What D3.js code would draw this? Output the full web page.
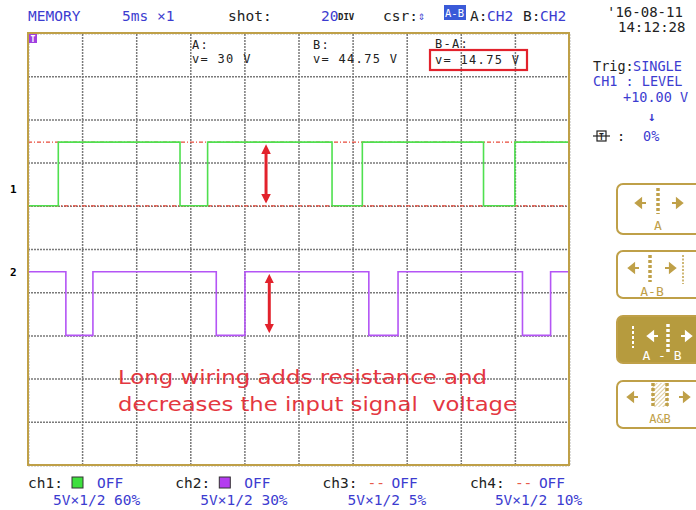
<!DOCTYPE html>
<html><head><meta charset="utf-8">
<script src="https://cdn.jsdelivr.net/npm/d3@7"></script>
<style>
html,body{margin:0;padding:0;background:#fff;}
svg{display:block;}
text{font-family:"DejaVu Sans Mono",monospace;}
</style></head>
<body><div id="chart"></div>
<script>
// ---- data ----
const timeDomainMs = [0, 50];          // 5 ms/div x 10 div
const divDomain = [0, 10];             // vertical divisions
const voltsPerDiv = 10;
const ch1OffsetDiv = 6;                // 60%
const ch2OffsetDiv = 3;                // 30%
const ch1Edges = [0, 2.8, 14.05, 16.6, 28.1, 30.9, 42.1, 45.0];
const ch1Levels = [0, 14.75, 0, 14.75, 0, 14.75, 0, 14.75];
const ch2Edges = [0, 3.5, 6.0, 17.4, 20.05, 31.5, 34.2, 45.7, 48.3];
const ch2Levels = [14.75, 0, 14.75, 0, 14.75, 0, 14.75, 0, 14.75];
const cursorVolts = [0, 14.75];
const arrowTimeCh1 = 22.0;
const arrowTimeCh2 = 22.3;
const cursorA = "v= 30 V";
const cursorB = "v= 44.75 V";
const cursorBA = "v= 14.75 V";
const legendChannels = ["ch1:", "ch2:", "ch3:", "ch4:"];
const legendScales = ["5V×1/2 60%", "5V×1/2 30%", "5V×1/2 5%", "5V×1/2 10%"];
const annotation = ["Long wiring adds resistance and", "decreases the input signal  voltage"];

// ---- layout ----
const W = 696, H = 510;
const L = 28, R = 569, T = 33, B = 465;
const blue = "#3c3cd0", gold = "#bfa048", red = "#e2222c";
const svg = d3.select("#chart").append("svg").attr("width", W).attr("height", H);

const x = d3.scaleLinear().domain(timeDomainMs).range([L, R]);
const y = d3.scaleLinear().domain(divDomain).range([B, T]);
const vToDiv = (v, off) => off + v / voltsPerDiv;

// grid
const g = svg.append("g");
const xAxis = d3.axisBottom(x).ticks(10).tickSize(-(B - T)).tickFormat("");
const yAxis = d3.axisLeft(y).ticks(10).tickSize(-(R - L)).tickFormat("");
const gx = g.append("g").attr("transform", `translate(0,${B})`).call(xAxis);
const gy = g.append("g").attr("transform", `translate(${L},0)`).call(yAxis);
[gx, gy].forEach(a => {
  a.select(".domain").remove();
  a.selectAll("line").attr("stroke", "#7a7a7a").attr("stroke-width", 1.5).attr("stroke-dasharray", "2,1");
});

// annotation (under traces)
svg.append("g").selectAll("text").data(annotation).join("text")
  .attr("x", 118).attr("y", (d, i) => 384 + i * 27)
  .attr("textLength", (d, i) => i ? 399 : 369).attr("lengthAdjust", "spacingAndGlyphs")
  .attr("xml:space", "preserve").style("white-space", "pre")
  .style("font-family", "'DejaVu Sans',Verdana,sans-serif").style("font-size", "19px")
  .attr("fill", red).attr("opacity", 0.9).text(d => d);

gy.raise();

// cursor dashed lines (ch1 levels)
svg.append("g").selectAll("line").data(cursorVolts).join("line")
  .attr("x1", L).attr("x2", R)
  .attr("y1", d => y(vToDiv(d, ch1OffsetDiv))).attr("y2", d => y(vToDiv(d, ch1OffsetDiv)))
  .attr("stroke", "#e84a3a").attr("stroke-width", 1.3).attr("stroke-dasharray", "4,2,1,2");

// traces
function trace(edges, levels, off, color) {
  const pts = edges.map((t, i) => [t, levels[i]]);
  pts.push([timeDomainMs[1], levels[levels.length - 1]]);
  const line = d3.line().x(d => x(d[0])).y(d => y(vToDiv(d[1], off))).curve(d3.curveStepAfter);
  svg.append("path").attr("d", line(pts)).attr("fill", "none")
    .attr("stroke", color).attr("stroke-width", 1.6);
}
trace(ch1Edges, ch1Levels, ch1OffsetDiv, "#4fe04f");
trace(ch2Edges, ch2Levels, ch2OffsetDiv, "#b455f5");

// red double arrows
const defs = svg.append("defs");
defs.append("marker").attr("id", "ah").attr("viewBox", "0 0 10 10").attr("refX", 5).attr("refY", 5)
  .attr("markerWidth", 3.2).attr("markerHeight", 3.2).attr("orient", "auto-start-reverse")
  .append("path").attr("d", "M0,0 L10,5 L0,10 Z").attr("fill", red);
[[arrowTimeCh1, ch1OffsetDiv], [arrowTimeCh2, ch2OffsetDiv]].forEach(([t, off]) => {
  svg.append("line").attr("x1", x(t)).attr("x2", x(t))
    .attr("y1", y(vToDiv(cursorVolts[1], off)) + 7).attr("y2", y(vToDiv(cursorVolts[0], off)) - 7)
    .attr("stroke", red).attr("stroke-width", 3)
    .attr("marker-start", "url(#ah)").attr("marker-end", "url(#ah)");
});

// border
svg.append("rect").attr("x", L).attr("y", T).attr("width", R - L).attr("height", B - T)
  .attr("fill", "none").attr("stroke", gold).attr("stroke-width", 2);

// T marker
svg.append("rect").attr("x", L + 1).attr("y", T + 1).attr("width", 8).attr("height", 9).attr("fill", "#a040e0");
svg.append("text").attr("x", L + 5).attr("y", T + 9).attr("text-anchor", "middle")
  .style("font-size", "8px").style("font-weight", "bold").attr("fill", "#fff").text("T");

// channel numbers
svg.append("text").attr("x", 10).attr("y", 193).style("font-size", "11px").style("font-weight", "bold").text("1");
svg.append("text").attr("x", 10).attr("y", 276).style("font-size", "11px").style("font-weight", "bold").text("2");

// cursor readouts
const rd = svg.append("g").style("font-size", "12px").style("letter-spacing", "1.3px").attr("fill", "#222");
rd.append("text").attr("x", 192).attr("y", 49).text("A:");
rd.append("text").attr("x", 192).attr("y", 63).text(cursorA);
rd.append("text").attr("x", 313).attr("y", 49).text("B:");
rd.append("text").attr("x", 313).attr("y", 63).text(cursorB);
rd.append("text").attr("x", 435).attr("y", 48).text("B-A:");
rd.append("text").attr("x", 435).attr("y", 64).text(cursorBA);
svg.append("rect").attr("x", 430).attr("y", 50).attr("width", 97).attr("height", 20)
  .attr("fill", "none").attr("stroke", red).attr("stroke-width", 2.2);

// header
const hs = "14.5px";
function txt(xp, yp, s, col, size) {
  return svg.append("text").attr("x", xp).attr("y", yp).style("font-size", size || hs).attr("fill", col).text(s);
}
txt(28, 21, "MEMORY", blue);
txt(122, 21, "5ms ×1", blue);
txt(228, 21, "shot:", "#222");
txt(321, 21, "20", blue);
txt(338, 20, "DIV", "#222", "9px").style("font-weight", "bold");
txt(383, 21, "csr:", "#222");
txt(418, 20, "⇕", blue, "12px");
svg.append("rect").attr("x", 444).attr("y", 5).attr("width", 22).attr("height", 15).attr("fill", "#3a5ad8");
txt(445, 17, "A-B", "#fff", "10.5px");
txt(470, 21, "A:", "#222");
txt(487, 21, "CH2", blue);
txt(523, 21, "B:", "#222");
txt(540, 21, "CH2", blue);
txt(607, 17, "'16-08-11", "#222", "14px");
txt(618, 32, "14:12:28", "#222", "14px");

// right trigger panel
const ps = "13.5px";
txt(593, 71, "Trig:", "#222", ps);
txt(633, 71, "SINGLE", blue, ps);
txt(593, 86, "CH1 : LEVEL", blue, ps);
txt(623, 102, "+10.00 V", blue, ps);
txt(648, 121, "↓", blue, "13px").style("font-weight", "bold");
svg.append("rect").attr("x", 597).attr("y", 131).attr("width", 9).attr("height", 10).attr("fill", "none").attr("stroke", "#222").attr("stroke-width", 1.2);
svg.append("text").attr("x", 601.5).attr("y", 139.5).attr("text-anchor", "middle").style("font-size", "8px").style("font-weight", "bold").attr("fill", "#222").text("T");
svg.append("line").attr("x1", 593).attr("x2", 610).attr("y1", 136).attr("y2", 136).attr("stroke", "#222").attr("stroke-width", 1.2);
txt(617, 141, ":", "#222", ps);
txt(643, 141, "0%", blue, ps);

// buttons
function arrow(gp, cx, cy, dir, col) {
  gp.append("path").attr("d", dir < 0
    ? `M${cx - 5},${cy} L${cx},${cy - 4} L${cx},${cy + 4} Z M${cx},${cy} L${cx + 5},${cy}`
    : `M${cx + 5},${cy} L${cx},${cy - 4} L${cx},${cy + 4} Z M${cx},${cy} L${cx - 5},${cy}`)
    .attr("fill", col).attr("stroke", col).attr("stroke-width", 2.2);
}
function dotted(gp, xx, y1, y2, col, w, dash) {
  gp.append("line").attr("x1", xx).attr("x2", xx).attr("y1", y1).attr("y2", y2)
    .attr("stroke", col).attr("stroke-width", w).attr("stroke-dasharray", dash);
}
const btn = svg.append("g");
const btnRects = [[184, 234, false], [251, 298, false], [316, 363, true], [381, 428, false]];
btnRects.forEach(([y0, y1, filled]) => {
  btn.append("rect").attr("x", 617).attr("y", y0).attr("width", 95).attr("height", y1 - y0).attr("rx", 6)
    .attr("fill", filled ? "#b69b3e" : "#fff").attr("stroke", gold).attr("stroke-width", 2);
});
// button 1
arrow(btn, 641, 203, -1, gold); dotted(btn, 658, 188, 214, gold, 3.5, "3,2"); arrow(btn, 677, 203, 1, gold);
btn.append("text").attr("x", 658).attr("y", 230).attr("text-anchor", "middle").style("font-size", "13px").attr("fill", gold).text("A");
// button 2
arrow(btn, 634, 268, -1, gold); dotted(btn, 650, 255, 282, gold, 3.5, "3,2"); arrow(btn, 670, 268, 1, gold);
dotted(btn, 683, 255, 284, gold, 1.5, "2,1.5");
btn.append("text").attr("x", 652).attr("y", 296).attr("text-anchor", "middle").style("font-size", "13px").attr("fill", gold).text("A-B");
// button 3 (selected)
dotted(btn, 633, 326, 348, "#fff", 2, "3,2");
arrow(btn, 653, 336, -1, "#fff"); dotted(btn, 668, 324, 352, "#fff", 3.5, "3,2"); arrow(btn, 686, 336, 1, "#fff");
btn.append("text").attr("x", 662).attr("y", 360).attr("text-anchor", "middle").style("font-size", "13px").attr("fill", "#fff").text("A - B");
// button 4
const hp = defs.append("pattern").attr("id", "hatch").attr("patternUnits", "userSpaceOnUse").attr("width", 3).attr("height", 3).attr("patternTransform", "rotate(45)");
hp.append("line").attr("x1", 0).attr("y1", 0).attr("x2", 0).attr("y2", 3).attr("stroke", gold).attr("stroke-width", 1);
arrow(btn, 633, 397, -1, gold);
btn.append("rect").attr("x", 652).attr("y", 383).attr("width", 16).attr("height", 24).attr("fill", "url(#hatch)");
dotted(btn, 653, 383, 408, gold, 3.5, "3,2"); dotted(btn, 667, 383, 408, gold, 3.5, "3,2");
arrow(btn, 684, 397, 1, gold);
btn.append("text").attr("x", 660).attr("y", 423).attr("text-anchor", "middle").style("font-size", "12px").attr("fill", gold).text("A&B");

// bottom legend
const legColors = ["#3ee03e", "#b43cf0", null, null];
legendChannels.forEach((c, i) => {
  const x0 = 28 + i * 147.3;
  txt(x0, 488, c, "#222");
  if (legColors[i]) {
    svg.append("rect").attr("x", x0 + 44).attr("y", 477).attr("width", 11).attr("height", 11)
      .attr("fill", legColors[i]).attr("stroke", "#333").attr("stroke-width", 1);
  } else {
    txt(x0 + 45, 488, "--", "#e85a4a");
  }
  txt(x0 + 69, 488, "OFF", blue);
  txt(x0 + 25, 505, legendScales[i], blue);
});
</script></body></html>
